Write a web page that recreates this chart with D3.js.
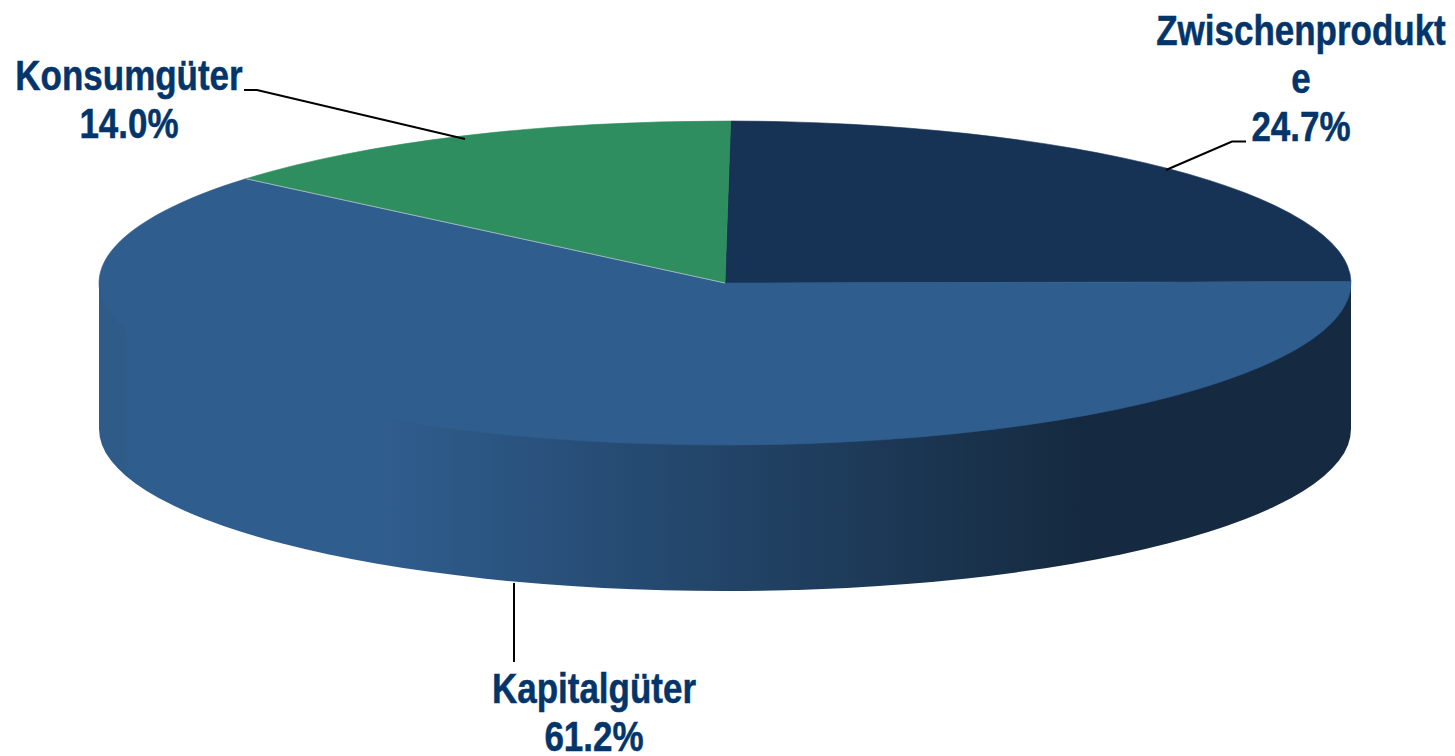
<!DOCTYPE html>
<html>
<head>
<meta charset="utf-8">
<script src="https://cdn.jsdelivr.net/npm/d3@7/dist/d3.min.js"></script>
<style>
html,body{margin:0;padding:0;background:#fff;overflow:hidden}
svg{display:block}
text{font-family:"Liberation Sans",Arial,sans-serif;font-weight:700;font-size:42px;fill:#03356a;stroke:#03356a;stroke-width:0.5px}
</style>
</head>
<body>
<svg id="c" width="1455" height="756"></svg>
<script>
(function(){
const categories = ["Zwischenprodukte", "Kapitalgüter", "Konsumgüter"];
const values = [24.7, 61.2, 14.0];
const colors = ["#163355", "#2f5d8e", "#2f8e5f"];
const labelLines = [["Zwischenprodukt", "e", "24.7%"], ["Kapitalgüter", "61.2%"], ["Konsumgüter", "14.0%"]];

// layout only
const W = 1455, H = 756, cx = 725, cy = 283, rx = 626, ry = 162, depth = 146;
const labelPos = [{x:1301,y:45},{x:594,y:703},{x:129,y:90}];
const leaders = [
  [[1246,141.5],[1232,141.5],[1166,170]],
  [[514,583],[514,662]],
  [[244,90],[257,90],[465,139]]
];
const sideStops = [[0,"#2e5b87"],[0.02,"#2e5b87"],[0.024,"#2f5d8e"],[0.225,"#2f5d8e"],[0.785,"#152a40"],[1,"#152a40"]];

const svg = d3.select("#c");
const defs = svg.append("defs");
const grad = defs.append("linearGradient").attr("id","side")
  .attr("gradientUnits","userSpaceOnUse")
  .attr("x1",-rx).attr("x2",rx).attr("y1",0).attr("y2",0);
sideStops.forEach(s => grad.append("stop").attr("offset",s[0]).attr("stop-color",s[1]));

const start = 0.009;
const pie = d3.pie().sort(null).startAngle(start).endAngle(start + 2*Math.PI);
const arcs = pie(values);
const arc = d3.arc().innerRadius(0).outerRadius(rx);

// wall
const wall = svg.append("g").attr("transform",`translate(${cx},${cy})`);
wall.append("rect").attr("x",-rx).attr("y",0).attr("width",2*rx).attr("height",depth).attr("fill","url(#side)");
wall.append("path")
  .attr("transform",`translate(0,${depth}) scale(1,${ry/rx})`)
  .attr("d",arc({startAngle:Math.PI/2,endAngle:3*Math.PI/2}))
  .attr("fill","url(#side)");

// top face
const face = svg.append("g").attr("transform",`translate(${cx},${cy}) scale(1,${ry/rx})`);
face.selectAll("path").data(arcs).join("path")
  .attr("d",arc)
  .attr("fill",(d,i)=>colors[i])
  .attr("stroke",(d,i)=>colors[i])
  .attr("stroke-width",0.6)
  .attr("vector-effect","non-scaling-stroke");
// light seam on the green slice's left edge
const a3 = arcs[2];
face.append("path")
  .attr("d",d3.line()([[0,0],[rx*Math.sin(a3.startAngle),-rx*Math.cos(a3.startAngle)]]))
  .attr("stroke","#9fb7c0").attr("stroke-width",1).attr("fill","none")
  .attr("vector-effect","non-scaling-stroke");

// leaders
svg.append("g").selectAll("path").data(leaders).join("path")
  .attr("d",d3.line()).attr("fill","none").attr("stroke","#000").attr("stroke-width",2);

// labels
const lh = 48, sx = 0.833;
const g = svg.append("g").selectAll("g").data(labelLines).join("g")
  .attr("transform",(d,i)=>`translate(${labelPos[i].x},${labelPos[i].y}) scale(${sx},1)`);
g.selectAll("text").data(d=>d).join("text")
  .attr("text-anchor","middle").attr("y",(d,i)=>i*lh).text(d=>d);
})();
</script>
</body>
</html>
